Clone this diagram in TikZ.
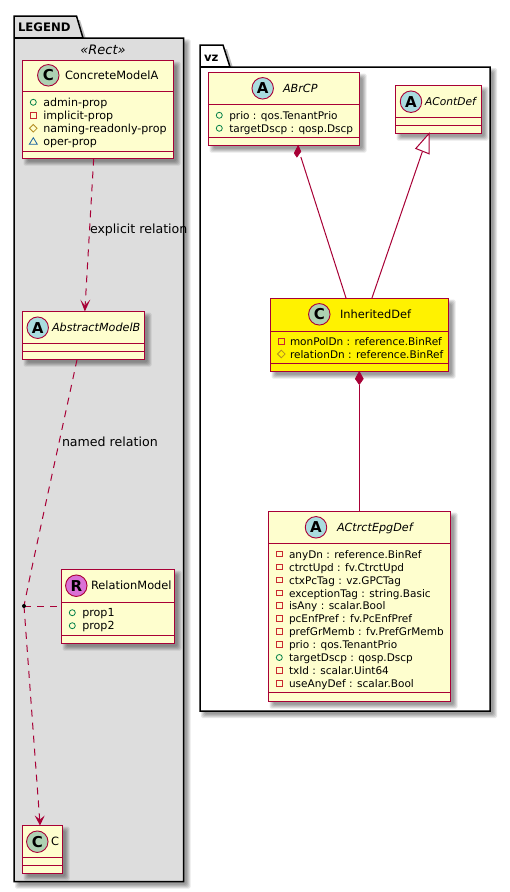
\documentclass[tikz,border=0pt]{standalone}
\usepackage{fontspec}
\setmainfont{DejaVu Sans}
\usetikzlibrary{calc}
\definecolor{crim}{HTML}{A80036}
\definecolor{boxbg}{HTML}{FEFECE}
\definecolor{pkgbg}{HTML}{DDDDDD}
\definecolor{cicon}{HTML}{ADD1B2}
\definecolor{aicon}{HTML}{A9DCDF}
\definecolor{ricon}{HTML}{DA70D6}
\definecolor{pubc}{HTML}{038048}
\definecolor{pric}{HTML}{C82930}
\definecolor{proc}{HTML}{B38D22}
\definecolor{pacc}{HTML}{1963A0}
\newcounter{nodeid}
\tikzset{
  x=1pt,y=-1pt,
  umlbox/.style={draw=crim,line width=1.9pt,inner sep=0pt,outer sep=0pt,rectangle},
  sep/.style={draw=crim,line width=1.9pt},
  pkg/.style={draw=black,line width=1.5pt,line join=miter},
  conn/.style={draw=crim,line width=1pt},
  dconn/.style={conn,dash pattern=on 7pt off 6pt},
  head/.style={fill=crim,draw=crim,line width=.6pt,line join=miter},
  txt/.style={inner sep=0pt,outer sep=0pt,anchor=base west,text=black,font=\fontsize{11.1}{13}\selectfont},
  atype/.style={txt,font=\fontsize{10.5}{13}\selectfont},
  ttl/.style={txt,font=\fontsize{11.4}{14}\selectfont},
  lnk/.style={txt,font=\fontsize{12.6}{14}\selectfont},
  ititle/.style={txt,font=\fontsize{11.2}{14}\selectfont\itshape},
  ititlesm/.style={txt,font=\fontsize{10.7}{14}\selectfont\itshape},
  letter/.style={inner sep=0pt,font=\fontsize{15}{15}\selectfont\bfseries,text=black},
  ico/.style={line width=.8pt},
}
% soft shadow of a rectangle
\newcommand{\softshadow}[4]{%
  \foreach \e in {3,2,1,0,-1}{\fill[black,fill opacity=.09,rounded corners=1.5pt]
    ({#1+4-\e},{#2+4-\e}) rectangle ({#3+4+\e},{#4+4+\e});}}
% name x1 y1 x2 y2 sep1 sep2 fill
\newcommand{\umlclass}[8]{%
  \softshadow{#2}{#3}{#4}{#5}
  \node[umlbox,fill=#8,minimum width={(#4-#2)*1pt},minimum height={(#5-#3)*1pt}] (#1) at ({(#2+#4)/2},{(#3+#5)/2}) {};
  \draw[sep] (#2,#6) -- (#4,#6);
  \draw[sep] (#2,#7) -- (#4,#7);}
% icon: x y colour letter
\newcommand{\badge}[4]{%
  \stepcounter{nodeid}
  \node[circle,draw=crim,line width=.9pt,fill=#3,minimum size=21.5pt,inner sep=0pt] (b\arabic{nodeid}) at (#1,#2) {};
  \node[letter] (l\arabic{nodeid}) at (#1,#2) {#4};}
\newcommand{\lbl}[4][txt]{%
  \stepcounter{nodeid}
  \node[#1] (t\arabic{nodeid}) at (#2,{#3+4}) {#4};}
\newcommand{\vpub}[2]{\draw[ico,pubc] (#1,#2) circle (3pt);}
\newcommand{\vpri}[2]{\draw[ico,pric] ({#1-2.8},{#2-2.8}) rectangle ({#1+2.8},{#2+2.8});}
\newcommand{\vpro}[2]{\draw[ico,proc] (#1,{#2-3.8}) -- ({#1+3.8},#2) -- (#1,{#2+3.8}) -- ({#1-3.8},#2) -- cycle;}
\newcommand{\vpac}[2]{\draw[ico,pacc,line join=miter] (#1,{#2-3.6}) -- ({#1+4},{#2+3}) -- ({#1-4},{#2+3}) -- cycle;}
\begin{document}
\begin{tikzpicture}
\useasboundingbox (0,0) rectangle (510,892);
\fill[white] (0,0) rectangle (510,892);
% LEGEND package
\softshadow{14}{38}{183.5}{881.5}
\fill[black,fill opacity=.25] (18,20) -- (80,20) -- (87,42) -- (18,42) -- cycle;
\filldraw[pkg,fill=pkgbg] (14,16) -- (76.5,16) -- (83,38) -- (183.5,38) -- (183.5,881.5) -- (14,881.5) -- cycle;
\draw[pkg] (14,38) -- (83,38);
\node[txt,font=\fontsize{11.7}{14}\selectfont\bfseries] (legendlbl) at (18,31.5) {LEGEND};
\node[txt,anchor=base,font=\fontsize{13}{14}\selectfont\itshape] (rectlbl) at (103,54) {«Rect»};
% vz package
\softshadow{200}{67}{490}{711}
\fill[black,fill opacity=.25] (204,49) -- (227,49) -- (234,71) -- (204,71) -- cycle;
\filldraw[pkg,fill=white] (200,45) -- (223,45) -- (230,67) -- (490,67) -- (490,711) -- (200,711) -- cycle;
\draw[pkg] (200,67) -- (230,67);
\node[txt,font=\fontsize{11.7}{14}\selectfont\bfseries] (vzlbl) at (204,61.5) {vz};
% classes
\umlclass{concrete}{22.5}{60.5}{173.5}{158.5}{91.5}{151.5}{boxbg}
\badge{48.3}{75.3}{cicon}{C}
\lbl[ttl]{65}{75.5}{ConcreteModelA}
\vpub{33.3}{102.3}\lbl{43.3}{102.3}{admin-prop}
\vpri{33.3}{115.3}\lbl{43.3}{115.3}{implicit-prop}
\vpro{33.3}{128.3}\lbl{43.3}{128.3}{naming-readonly-prop}
\vpac{33.3}{141.3}\lbl{43.3}{141.3}{oper-prop}

\umlclass{abstractb}{22.5}{311.5}{144.5}{359.5}{343.5}{351.5}{boxbg}
\badge{37.7}{327.7}{aicon}{A}
\lbl[ititle]{52}{327.7}{AbstractModelB}

\umlclass{relmodel}{61.5}{569.5}{174.5}{643.5}{602.5}{635.5}{boxbg}
\badge{76.3}{585.7}{ricon}{R}
\lbl[ttl]{91}{585.7}{RelationModel}
\vpub{72.3}{612.7}\lbl{82.3}{612.7}{prop1}
\vpub{72.3}{625.7}\lbl{82.3}{625.7}{prop2}

\umlclass{cclass}{22.5}{825.5}{62.5}{873.5}{857.5}{865.5}{boxbg}
\badge{37.3}{841.7}{cicon}{C}
\lbl[ttl]{51}{841.7}{C}

\umlclass{abrcp}{208.5}{72.5}{359.5}{145.5}{104.5}{137.5}{boxbg}
\badge{262.7}{88.3}{aicon}{A}
\lbl[ititle]{283}{88.3}{ABrCP}
\vpub{219.3}{115.3}\lbl[atype]{229.3}{115.3}{prio : qos.TenantPrio}
\vpub{219.3}{128.3}\lbl[atype]{229.3}{128.3}{targetDscp : qosp.Dscp}

\umlclass{acont}{395.5}{85.5}{481.5}{133.5}{117.5}{125.5}{boxbg}
\badge{411}{101.7}{aicon}{A}
\lbl[ititlesm]{425}{101.7}{AContDef}

\umlclass{inherited}{270.5}{298.5}{448.5}{371.5}{331.5}{363.5}{yellow}
\badge{319.3}{314.3}{cicon}{C}
\lbl[ttl]{340}{314.3}{InheritedDef}
\vpri{281.3}{341.3}\lbl[atype]{290}{341.3}{monPolDn : reference.BinRef}
\vpro{281.3}{354}\lbl[atype]{290}{354}{relationDn : reference.BinRef}

\umlclass{actrct}{268.5}{511.5}{450.5}{701.5}{543.5}{692.5}{boxbg}
\badge{316}{527.3}{aicon}{A}
\lbl[ititle]{337}{527.3}{ACtrctEpgDef}
\vpri{279.3}{554}\lbl[atype]{289}{554}{anyDn : reference.BinRef}
\vpri{279.3}{567}\lbl[atype]{289}{567}{ctrctUpd : fv.CtrctUpd}
\vpri{279.3}{580}\lbl[atype]{289}{580}{ctxPcTag : vz.GPCTag}
\vpri{279.3}{593}\lbl[atype]{289}{593}{exceptionTag : string.Basic}
\vpri{279.3}{605.5}\lbl[atype]{289}{605.5}{isAny : scalar.Bool}
\vpri{279.3}{618.5}\lbl[atype]{289}{618.5}{pcEnfPref : fv.PcEnfPref}
\vpri{279.3}{631.5}\lbl[atype]{289}{631.5}{prefGrMemb : fv.PrefGrMemb}
\vpri{279.3}{644.5}\lbl[atype]{289}{644.5}{prio : qos.TenantPrio}
\vpub{279.3}{657.5}\lbl[atype]{289}{657.5}{targetDscp : qosp.Dscp}
\vpri{279.3}{670.5}\lbl[atype]{289}{670.5}{txId : scalar.Uint64}
\vpri{279.3}{683.3}\lbl[atype]{289}{683.3}{useAnyDef : scalar.Bool}
% connector anchors on the class borders
\coordinate (concreteOut) at ($(concrete.south west)!.4715!(concrete.south east)$);
\coordinate (abOut) at ($(abstractb.south west)!.447!(abstractb.south east)$);
\coordinate (abIn) at ($(abstractb.north west)!.511!(abstractb.north east)$);
\coordinate (relIn) at (relmodel.west |- 0,606);
\coordinate (jdot) at (24,606);
\coordinate (cIn) at ($(cclass.north west)!.4375!(cclass.north east)$);
\coordinate (inhA) at ($(inherited.north west)!.425!(inherited.north east)$);
\coordinate (inhB) at ($(inherited.north west)!.569!(inherited.north east)$);
\coordinate (inhS) at (inherited.south -| 359.3,0);
\coordinate (actN) at (actrct.north -| 359.3,0);
\coordinate (abrD) at ($(abrcp.south west)!.594!(abrcp.south east)$);
\coordinate (contT) at ($(acont.south west)!.3907!(acont.south east)$);
% connectors
\draw[dconn] (concreteOut) -- ($(abIn)+(.3,-6)$);
\fill[crim] (abIn) -- ++(-4.5,-12) -- ++(4.5,6) -- ++(5.5,-6) -- cycle;
\draw[dconn] (abOut) .. controls (62,430) and (33,560) .. (jdot);
\draw[dconn] (jdot) -- (relIn);
\draw[dconn] (jdot) -- ($(cIn)+(-.2,-4)$);
\fill[crim] (cIn) -- ++(-5.3,-10) -- ++(5.3,4) -- ++(4.7,-4) -- cycle;
\fill[black] (jdot) circle (2pt);
\draw[conn] ($(abrD)+(2.7,11.6)$) -- (inhA);
\filldraw[head] (abrD) -- ++(-4,7.6) -- ++(2.7,4) -- ++(4,-5.6) -- cycle;
\draw[conn] ($(contT)+(-6.7,18)$) -- (inhB);
\draw[conn,fill=white,line join=miter] (contT) -- ++(-13.3,15) -- ++(13.3,5.3) -- cycle;
\draw[conn] ($(inhS)+(0,13)$) -- (actN);
\filldraw[head] (inhS) -- ++(-4,7.3) -- ++(4,5.7) -- ++(4,-5.7) -- cycle;
% relation labels
\lbl[lnk]{90}{229}{explicit relation}
\lbl[lnk]{62}{442}{named relation}
\end{tikzpicture}
\end{document}
